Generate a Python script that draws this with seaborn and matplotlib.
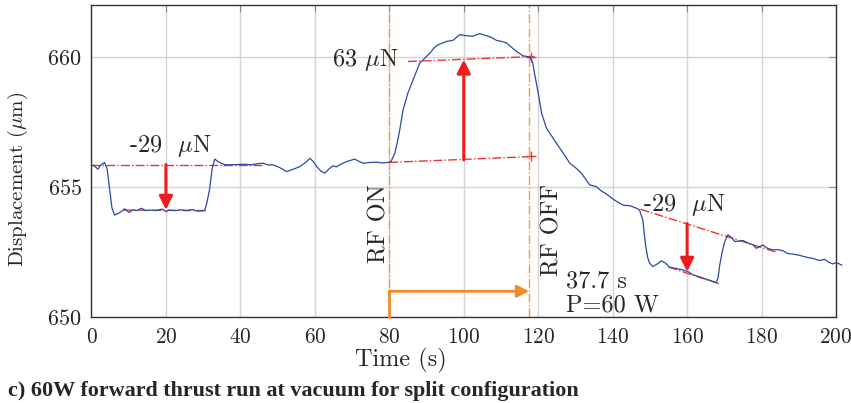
import numpy as np
import pandas as pd
import matplotlib
matplotlib.use("Agg")
import matplotlib.pyplot as plt
import seaborn as sns

# displacement trace (time in s, displacement in um)
time_s = [0, 0.8, 1.7, 2.5, 3.5, 4.2, 4.9, 5.5, 6.2, 7.0, 8.0, 8.9, 9.6, 10.2, 11.1,
          12.2, 13.4, 14.5, 16, 17.5, 19, 20, 21, 22.5, 24, 25.5, 27, 28.5, 30.4,
          31.0, 31.7, 32.4, 33.1, 34.0, 34.8, 36, 37.2, 39.3, 41, 43, 44.5, 46.1,
          47.5, 48.8, 50.6, 52.4, 54, 56, 57.5, 58.7, 59.6, 60.5, 61.6, 62.7, 63.8,
          64.9, 65.8, 67, 68.5, 70.7, 72, 73, 74.8, 76.6, 78, 79.7, 80.5, 81.5,
          82.2, 82.8, 83.7, 85, 86.4, 88.2, 89.5, 90.9, 92, 93.1, 95.4, 97.1, 98.9,
          100.7, 102.5, 104.3, 106.1, 107.5, 108.8, 110.2, 111.5, 112.8, 114.1,
          115.9, 117.7, 118.5, 119.1, 120, 120.9, 122.2, 124, 125.3, 126.7, 128.5,
          130, 131.6, 133.8, 135.6, 137, 138.3, 140, 141.9, 143, 144.6, 146.4,
          147.2, 148.1, 148.5, 148.9, 149.4, 149.9, 150.8, 152, 153.1, 154.2,
          155.3, 157, 158.9, 160.3, 161.6, 163.4, 165.2, 166.5, 167.8, 168.3,
          168.7, 169.4, 170.1, 171, 172, 172.8, 174, 175, 176.4, 177.7, 178.6,
          180.3, 181.6, 183, 184.3, 185.7, 187, 188.4, 190.2, 192, 193.8, 195.6,
          196.9, 198, 199.1, 200, 200.9, 201.6]
disp_um = [655.86, 655.82, 655.69, 655.85, 655.95, 655.7, 654.9, 654.2, 653.93,
           653.98, 654.06, 654.17, 654.08, 654.03, 654.13, 654.1, 654.19, 654.1,
           654.12, 654.1, 654.16, 654.06, 654.12, 654.1, 654.13, 654.1, 654.14,
           654.08, 654.1, 654.4, 654.9, 655.7, 656.08, 655.98, 655.92, 655.86,
           655.86, 655.87, 655.88, 655.86, 655.9, 655.92, 655.85, 655.86, 655.75,
           655.6, 655.68, 655.79, 655.95, 656.11, 655.98, 655.79, 655.62, 655.54,
           655.7, 655.82, 655.78, 655.88, 655.98, 656.08, 655.98, 655.92, 655.95,
           655.96, 655.93, 655.95, 656.0, 656.31, 656.75, 657.2, 657.97, 658.62,
           659.13, 659.77, 659.95, 660.15, 660.35, 660.47, 660.6, 660.64, 660.86,
           660.82, 660.8, 660.9, 660.82, 660.75, 660.64, 660.6, 660.54, 660.38,
           660.22, 660.05, 660.0, 659.8, 659.3, 658.62, 657.85, 657.27, 656.88,
           656.6, 656.31, 655.92, 655.75, 655.54, 655.09, 655.02, 654.85, 654.74,
           654.55, 654.38, 654.3, 654.29, 654.19, 654.13, 653.74, 653.2, 652.72,
           652.3, 652.08, 651.95, 652.05, 652.17, 652.08, 651.92, 651.88, 651.82,
           651.75, 651.63, 651.55, 651.46, 651.4, 651.33, 651.5, 651.95, 652.5,
           652.91, 653.17, 653.05, 652.91, 652.93, 652.95, 652.85, 652.78, 652.65,
           652.78, 652.65, 652.59, 652.6, 652.56, 652.45, 652.43, 652.38, 652.31,
           652.26, 652.18, 652.23, 652.12, 652.05, 652.1, 652.05, 652.0]

# red dash-dot fit lines: (x0, x1, y0, y1)
fit_x0 = [0, 8.5, 80, 85, 147.5, 155]
fit_x1 = [46, 31, 119, 119, 184, 169]
fit_y0 = [655.87, 654.12, 655.95, 659.83, 654.15, 651.93]
fit_y1 = [655.87, 654.1, 656.18, 660.02, 652.5, 651.27]

# thrust arrows
arrow_x = [20, 100, 160]
arrow_from = [655.87, 656.05, 653.6]
arrow_to = [654.13, 659.9, 651.75]
arrow_text = ["-29  $\\mu$N", "63 $\\mu$N", "-29  $\\mu$N"]
text_x = [21.3, 73.4, 159.3]
text_y = [656.6, 659.9, 654.3]

rf_on, rf_off = 80.0, 117.6

df = pd.DataFrame({"Time": time_s, "Displacement": disp_um})

sns.set_style("whitegrid")
plt.rcParams["font.family"] = ["cmr10", "DejaVu Serif"]
plt.rcParams["mathtext.fontset"] = "cm"
plt.rcParams["axes.formatter.use_mathtext"] = True

fig, ax = plt.subplots(figsize=(8.51, 4.03), dpi=100)
fig.subplots_adjust(left=0.1075, right=0.9824, top=0.9876, bottom=0.2127)

orange = "#f39a4e"
for xv in [rf_on, rf_off]:
    ax.axvline(xv, color=orange, lw=1.0, ls="-.", zorder=2)

for x0, x1, y0, y1 in zip(fit_x0, fit_x1, fit_y0, fit_y1):
    ax.plot([x0, x1], [y0, y1], color="#ee3333", lw=1.0, ls="-.", zorder=2)
ax.plot([118, 118], [656.18, 660.02], ls="none", marker="+", ms=7,
        color="#ee3333", zorder=2)

sns.lineplot(data=df, x="Time", y="Displacement", ax=ax, color="#2b4aa6",
             lw=0.9, zorder=3, clip_on=False)

for xa, y0, y1 in zip(arrow_x, arrow_from, arrow_to):
    ax.annotate("", xy=(xa, y1), xytext=(xa, y0),
                arrowprops=dict(arrowstyle="-|>", color="#ee1c1c", lw=2.2,
                                mutation_scale=20, shrinkA=0, shrinkB=0),
                zorder=4)
for tx, ty, s in zip(text_x, text_y, arrow_text):
    ax.text(tx, ty, s, ha="center", va="center", fontsize=17.5)

# run-time arrow
ax.plot([rf_on, rf_on], [650, 651.0], color="#f28a2a", lw=2, zorder=4,
        clip_on=False)
ax.annotate("", xy=(rf_off, 651.0), xytext=(rf_on, 651.0),
            arrowprops=dict(arrowstyle="-|>", color="#f28a2a", lw=2,
                            mutation_scale=18, shrinkA=0, shrinkB=0))

ax.text(rf_on + 0.3, 652.1, "RF ON", rotation=90, ha="right", va="bottom",
        fontsize=17.5)
ax.text(rf_off + 3.2, 651.6, "RF OFF", rotation=90, ha="left", va="bottom",
        fontsize=17.5)
ax.text(127.5, 651.36, "37.7 s", ha="left", va="center", fontsize=17.5)
ax.text(127.5, 650.47, "P=60 W", ha="left", va="center", fontsize=17.5)

ax.set_xlim(0, 200)
ax.set_ylim(650, 662)
ax.set_xticks(np.arange(0, 201, 20))
ax.set_yticks([650, 655, 660])
ax.grid(True, color="#d4d4d4", lw=1.0)
ax.tick_params(direction="in", length=5, color="#888888", top=True,
               right=True, labelsize=16, pad=7)
ax.tick_params(axis="x", labelsize=15.3)
for sp in ax.spines.values():
    sp.set_color("#333333")
    sp.set_linewidth(1.0)

ax.set_xlabel("Time (s)", fontsize=17.5)
ax.set_ylabel("Displacement ($\\mu$m)", fontsize=15)
ax.xaxis.set_label_coords(0.4157, -0.098)
ax.yaxis.set_label_coords(-0.082, 0.443)

fig.text(8 / 851, 1 - 391 / 403,
         "c) 60W forward thrust run at vacuum for split configuration",
         family="Liberation Serif", weight="bold", fontsize=15.9,
         ha="left", va="center")

fig.savefig("out.png", dpi=100)
